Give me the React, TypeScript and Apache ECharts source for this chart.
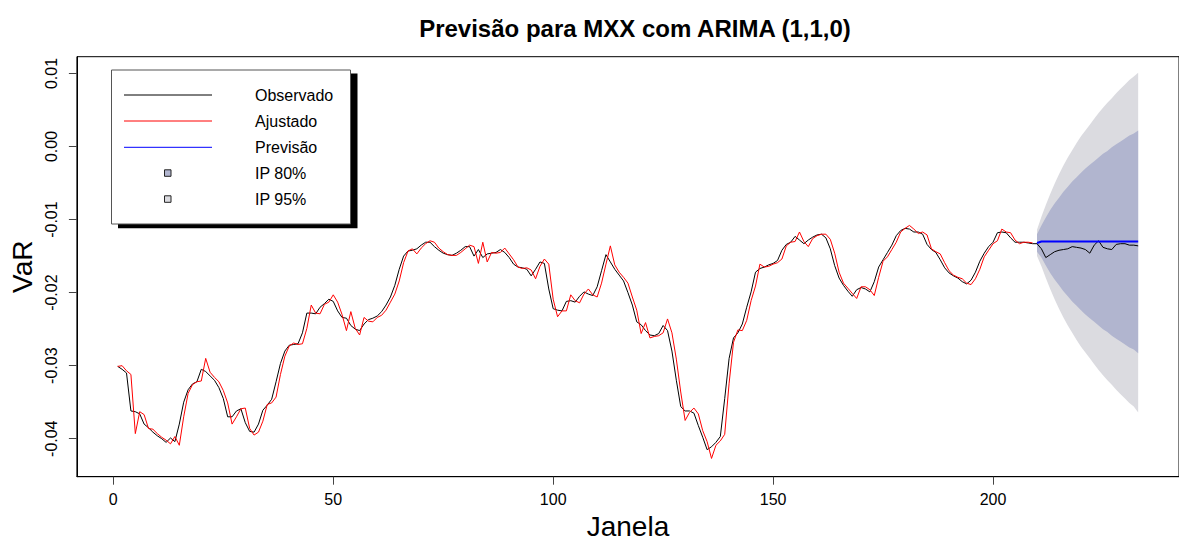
import React, { useEffect, useRef } from "react";
import * as echarts from "echarts";

const titulo = "Previsão para MXX com ARIMA (1,1,0)";
const rotuloX = "Janela";
const rotuloY = "VaR";

const xTicks = [0, 50, 100, 150, 200];
const yTicks = [-0.04, -0.03, -0.02, -0.01, 0.0, 0.01];

// Observed VaR, janelas 1..233
const observado = [
  -0.0301, -0.0305, -0.0310, -0.0362, -0.0363, -0.0366, -0.0380, -0.0385, -0.0391, -0.0396,
  -0.0400, -0.0405, -0.0399, -0.0404, -0.0380, -0.0350, -0.0333, -0.0325, -0.0322, -0.0305,
  -0.0308, -0.0314, -0.0320, -0.0330, -0.0345, -0.0370, -0.0370, -0.0362, -0.0359, -0.0378,
  -0.0390, -0.0391, -0.0380, -0.0361, -0.0354, -0.0346, -0.0322, -0.0297, -0.0280, -0.0272,
  -0.0271, -0.0270, -0.0255, -0.0228, -0.0228, -0.0229, -0.0220, -0.0215, -0.0209, -0.0212,
  -0.0225, -0.0234, -0.0235, -0.0245, -0.0250, -0.0252, -0.0243, -0.0237, -0.0235, -0.0232,
  -0.0226, -0.0217, -0.0206, -0.0190, -0.0168, -0.0150, -0.0143, -0.0142, -0.0140, -0.0135,
  -0.0131, -0.0131, -0.0137, -0.0142, -0.0146, -0.0148, -0.0149, -0.0146, -0.0142, -0.0137,
  -0.0137, -0.0150, -0.0141, -0.0152, -0.0147, -0.0146, -0.0145, -0.0141, -0.0145, -0.0152,
  -0.0161, -0.0165, -0.0166, -0.0168, -0.0177, -0.0168, -0.0158, -0.0160, -0.0195, -0.0222,
  -0.0224, -0.0225, -0.0212, -0.0211, -0.0213, -0.0205, -0.0199, -0.0202, -0.0204, -0.0192,
  -0.0170, -0.0148, -0.0158, -0.0168, -0.0176, -0.0184, -0.0200, -0.0217, -0.0240, -0.0244,
  -0.0252, -0.0258, -0.0259, -0.0256, -0.0245, -0.0252, -0.0280, -0.0320, -0.0356, -0.0362,
  -0.0362, -0.0365, -0.0382, -0.0398, -0.0415, -0.0411, -0.0405, -0.0397, -0.0345, -0.0290,
  -0.0262, -0.0255, -0.0243, -0.0220, -0.0199, -0.0172, -0.0167, -0.0165, -0.0162, -0.0160,
  -0.0156, -0.0142, -0.0134, -0.0131, -0.0123, -0.0128, -0.0133, -0.0128, -0.0124, -0.0121,
  -0.0120, -0.0125, -0.0140, -0.0163, -0.0180, -0.0190, -0.0198, -0.0205, -0.0196, -0.0193,
  -0.0195, -0.0199, -0.0185, -0.0165, -0.0155, -0.0145, -0.0135, -0.0122, -0.0115, -0.0112,
  -0.0113, -0.0117, -0.0117, -0.0120, -0.0134, -0.0141, -0.0145, -0.0155, -0.0166, -0.0173,
  -0.0177, -0.0180, -0.0185, -0.0188, -0.0183, -0.0172, -0.0157, -0.0146, -0.0137, -0.0131,
  -0.0118, -0.0117, -0.0118, -0.0125, -0.0131, -0.0131, -0.0131, -0.0132, -0.0133, -0.0133,
  -0.0140, -0.0152, -0.0148, -0.0144, -0.0142, -0.0141, -0.0140, -0.0137, -0.0138, -0.0139,
  -0.0141, -0.0146, -0.0135, -0.0129, -0.0138, -0.0140, -0.0141, -0.0134, -0.0133, -0.0133,
  -0.0135, -0.0135, -0.0136,
];

// Fitted values, janelas 1..209
const ajustado = [
  -0.0301, -0.0300, -0.0307, -0.0312, -0.0393, -0.0363, -0.0367, -0.0386, -0.0387, -0.0393,
  -0.0398, -0.0402, -0.0407, -0.0397, -0.0409, -0.0370, -0.0338, -0.0326, -0.0322, -0.0321,
  -0.0290, -0.0309, -0.0316, -0.0322, -0.0334, -0.0351, -0.0380, -0.0370, -0.0359, -0.0358,
  -0.0386, -0.0395, -0.0391, -0.0376, -0.0353, -0.0351, -0.0343, -0.0312, -0.0287, -0.0273,
  -0.0269, -0.0271, -0.0270, -0.0249, -0.0217, -0.0228, -0.0229, -0.0216, -0.0213, -0.0203,
  -0.0213, -0.0230, -0.0252, -0.0226, -0.0249, -0.0258, -0.0234, -0.0239, -0.0240, -0.0234,
  -0.0231, -0.0224, -0.0213, -0.0202, -0.0184, -0.0159, -0.0143, -0.0140, -0.0147, -0.0139,
  -0.0133, -0.0129, -0.0131, -0.0139, -0.0144, -0.0148, -0.0149, -0.0149, -0.0145, -0.0140,
  -0.0135, -0.0137, -0.0160, -0.0131, -0.0158, -0.0145, -0.0146, -0.0145, -0.0139, -0.0147,
  -0.0155, -0.0165, -0.0167, -0.0166, -0.0169, -0.0181, -0.0164, -0.0154, -0.0161, -0.0209,
  -0.0233, -0.0225, -0.0225, -0.0203, -0.0211, -0.0214, -0.0202, -0.0195, -0.0203, -0.0206,
  -0.0187, -0.0161, -0.0136, -0.0162, -0.0172, -0.0179, -0.0187, -0.0206, -0.0224, -0.0256,
  -0.0241, -0.0262, -0.0260, -0.0259, -0.0255, -0.0236, -0.0255, -0.0291, -0.0336, -0.0375,
  -0.0364, -0.0358, -0.0366, -0.0389, -0.0404, -0.0427, -0.0409, -0.0403, -0.0394, -0.0324,
  -0.0268, -0.0251, -0.0252, -0.0238, -0.0211, -0.0191, -0.0161, -0.0165, -0.0164, -0.0161,
  -0.0159, -0.0154, -0.0136, -0.0131, -0.0130, -0.0117, -0.0130, -0.0137, -0.0126, -0.0122,
  -0.0120, -0.0120, -0.0127, -0.0146, -0.0172, -0.0187, -0.0194, -0.0201, -0.0208, -0.0192,
  -0.0192, -0.0196, -0.0204, -0.0179, -0.0157, -0.0151, -0.0141, -0.0131, -0.0117, -0.0112,
  -0.0108, -0.0113, -0.0119, -0.0117, -0.0121, -0.0140, -0.0144, -0.0147, -0.0159, -0.0170,
  -0.0176, -0.0179, -0.0181, -0.0187, -0.0189, -0.0181, -0.0168, -0.0151, -0.0142, -0.0133,
  -0.0129, -0.0113, -0.0117, -0.0118, -0.0128, -0.0133, -0.0131, -0.0131, -0.0132,
];

// Forecast horizon, janelas 210..233
const inicioPrevisao = 210;
const previsao = [
  -0.0132, -0.0130, -0.0130, -0.0130, -0.0130, -0.0130, -0.0130, -0.0130, -0.0130, -0.0130,
  -0.0130, -0.0130, -0.0130, -0.0130, -0.0130, -0.0130, -0.0130, -0.0130, -0.0130, -0.0130,
  -0.0130, -0.0130, -0.0130, -0.0130,
];
const ip80Sup = [
  -0.0120, -0.0108, -0.0097, -0.0087, -0.0078, -0.0070, -0.0062, -0.0055, -0.0048, -0.0042,
  -0.0036, -0.0030, -0.0025, -0.0020, -0.0015, -0.0010, -0.0006, -0.0001, 0.0003, 0.0007,
  0.0011, 0.0015, 0.0018, 0.0022,
];
const ip80Inf = [
  -0.0144, -0.0152, -0.0163, -0.0173, -0.0182, -0.0190, -0.0198, -0.0205, -0.0212, -0.0218,
  -0.0224, -0.0230, -0.0235, -0.0240, -0.0245, -0.0250, -0.0254, -0.0259, -0.0263, -0.0267,
  -0.0271, -0.0275, -0.0278, -0.0283,
];
const ip95Sup = [
  -0.0114, -0.0096, -0.0080, -0.0065, -0.0051, -0.0038, -0.0026, -0.0015, -0.0005, 0.0005,
  0.0014, 0.0022, 0.0030, 0.0038, 0.0046, 0.0053, 0.0060, 0.0066, 0.0073, 0.0079,
  0.0085, 0.0091, 0.0096, 0.0101,
];
const ip95Inf = [
  -0.0150, -0.0164, -0.0180, -0.0195, -0.0209, -0.0222, -0.0234, -0.0245, -0.0255, -0.0265,
  -0.0274, -0.0282, -0.0290, -0.0298, -0.0306, -0.0313, -0.0320, -0.0326, -0.0333, -0.0339,
  -0.0345, -0.0351, -0.0356, -0.0364,
];

const legendaNomes = ["Observado", "Ajustado", "Previsão", "IP 80%", "IP 95%"];

const FONT = "'Liberation Sans', Arial, Helvetica, sans-serif";
const COR_80 = "#b1b5cf";
const COR_95 = "#dbdbe0";

function bandSeries(sup: number[], inf: number[], color: string, name: string) {
  return {
    type: "custom",
    name,
    silent: true,
    z: 1,
    data: [[inicioPrevisao, previsao[0]]],
    encode: { x: 0, y: 1 },
    renderItem: (params: any, api: any) => {
      const pts: number[][] = [];
      for (let i = 0; i < sup.length; i++) pts.push(api.coord([inicioPrevisao + i, sup[i]]));
      for (let i = inf.length - 1; i >= 0; i--) pts.push(api.coord([inicioPrevisao + i, inf[i]]));
      return { type: "polygon", shape: { points: pts }, style: { fill: color, stroke: null } };
    },
  };
}

export default function App() {
  const ref = useRef<HTMLDivElement>(null);

  useEffect(() => {
    if (!ref.current) return;
    const chart = echarts.init(ref.current, undefined, { renderer: "svg" });

    const lx = 111.5, ly = 70, lw = 239, lh = 154;
    const rowsY = [95, 121, 147.3, 173.3, 199.3];
    const lineColors = ["#000000", "#ff0000", "#0000ff"];
    const legendGraphics: any[] = [
      { type: "rect", shape: { x: lx + 6.5, y: ly + 3.5, width: lw + 0.5, height: lh + 0.8 }, style: { fill: "#000" }, z: 100 },
      { type: "rect", shape: { x: lx, y: ly, width: lw, height: lh }, style: { fill: "#fff", stroke: "#555", lineWidth: 1 }, z: 101 },
    ];
    legendaNomes.forEach((nome, i) => {
      if (i < 3) {
        legendGraphics.push({
          type: "line",
          shape: { x1: 124, y1: rowsY[i], x2: 212, y2: rowsY[i] },
          style: { stroke: lineColors[i], lineWidth: 1 },
          z: 102,
        });
      } else {
        legendGraphics.push({
          type: "rect",
          shape: { x: 164.5, y: rowsY[i] - 3.5, width: 6.5, height: 6.5 },
          style: { fill: i === 3 ? COR_80 : COR_95, stroke: "#222", lineWidth: 1 },
          z: 102,
        });
      }
      legendGraphics.push({
        type: "text",
        x: 255,
        y: rowsY[i],
        style: { text: nome, font: `16px ${FONT}`, fill: "#000", textAlign: "left", textVerticalAlign: "middle" },
        z: 102,
      });
    });

    chart.setOption({
      animation: false,
      backgroundColor: "#ffffff",
      title: {
        text: titulo,
        left: 630,
        top: 11,
        textAlign: "center",
        textStyle: { fontFamily: FONT, fontWeight: "bold", fontSize: 24, color: "#000" },
      },
      grid: {
        left: 76.7,
        top: 56.7,
        width: 1106.3,
        height: 420,
        show: true,
        borderColor: "#000",
        borderWidth: 1,
        backgroundColor: "transparent",
      },
      xAxis: {
        type: "value",
        min: -8.28,
        max: 242.28,
        name: rotuloX,
        nameLocation: "middle",
        nameGap: 36,
        nameTextStyle: { fontFamily: FONT, fontSize: 28, color: "#000" },
        axisLine: { show: true, onZero: false, lineStyle: { color: "#000", width: 1 } },
        axisTick: { show: true, customValues: xTicks, length: 8, lineStyle: { color: "#444" } },
        axisLabel: {
          customValues: xTicks,
          margin: 15,
          fontFamily: FONT,
          fontSize: 16,
          color: "#000",
          formatter: (v: number) => String(v),
        },
        splitLine: { show: false },
      },
      yAxis: {
        type: "value",
        min: -0.0452,
        max: 0.0123,
        name: rotuloY,
        nameLocation: "middle",
        nameRotate: 90,
        nameGap: 33,
        nameTextStyle: { fontFamily: FONT, fontSize: 28, color: "#000" },
        axisLine: { show: true, onZero: false, lineStyle: { color: "#000", width: 1 } },
        axisTick: { show: true, customValues: yTicks, length: 8, lineStyle: { color: "#444" } },
        axisLabel: {
          customValues: yTicks,
          rotate: 90,
          margin: 17,
          fontFamily: FONT,
          fontSize: 16,
          color: "#000",
          formatter: (v: number) => v.toFixed(2),
        },
        splitLine: { show: false },
      },
      series: [
        bandSeries(ip95Sup, ip95Inf, COR_95, "IP 95%"),
        bandSeries(ip80Sup, ip80Inf, COR_80, "IP 80%"),
        {
          type: "line",
          name: "Observado",
          data: observado.map((v, i) => [i + 1, v]),
          showSymbol: false,
          symbol: "none",
          lineStyle: { color: "#000", width: 1 },
          z: 3,
        },
        {
          type: "line",
          name: "Ajustado",
          data: ajustado.map((v, i) => [i + 1, v]),
          showSymbol: false,
          symbol: "none",
          lineStyle: { color: "#ff0000", width: 1 },
          z: 4,
        },
        {
          type: "line",
          name: "Previsão",
          data: previsao.map((v, i) => [inicioPrevisao + i, v]),
          showSymbol: false,
          symbol: "none",
          lineStyle: { color: "#0000ff", width: 2 },
          z: 5,
        },
      ],
      graphic: legendGraphics,
    });

    return () => chart.dispose();
  }, []);

  return (
    <div
      ref={ref}
      style={{ position: "absolute", left: 0, top: 0, width: 1179, height: 547, background: "#fff" }}
    />
  );
}
